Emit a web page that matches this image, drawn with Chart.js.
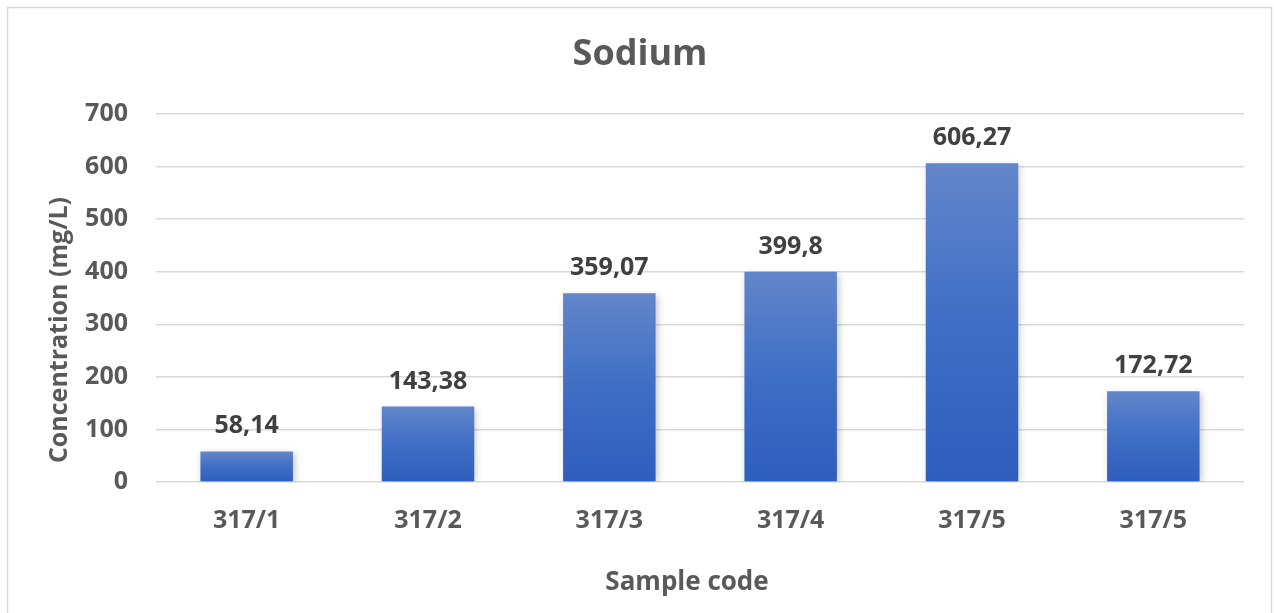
<!DOCTYPE html>
<html>
<head>
<meta charset="utf-8">
<script src="https://cdn.jsdelivr.net/npm/chart.js@4.4.1/dist/chart.umd.min.js"></script>
<style>
  html, body { margin: 0; padding: 0; background: #ffffff; }
  #wrap { width: 1274px; height: 613px; }
</style>
</head>
<body>
<div id="wrap"><canvas id="chart" width="1274" height="613"></canvas></div>
<script>
// Sodium concentration per sample
const sampleCodes = ['317/1', '317/2', '317/3', '317/4', '317/5', '317/5'];
const sodiumValues = [58.14, 143.38, 359.07, 399.8, 606.27, 172.72];
const yTicks = [0, 100, 200, 300, 400, 500, 600, 700];
const chartTitle = 'Sodium';
const xAxisTitle = 'Sample code';
const yAxisTitle = 'Concentration (mg/L)';

const FONT = '"Open Sans", Lato, sans-serif';
const GREY = '#595959';

// Vertical gradient per bar: lighter at the top, deeper blue at the base
function barFill(ctx) {
  const chart = ctx.chart;
  const y = chart.scales && chart.scales.y;
  if (!chart.chartArea || !y) return '#4472c4';
  const top = y.getPixelForValue(ctx.raw);
  const base = y.getPixelForValue(0);
  if (!isFinite(top) || !isFinite(base) || base - top < 1) return '#4472c4';
  const g = chart.ctx.createLinearGradient(0, top, 0, base);
  g.addColorStop(0, '#6386ca');
  g.addColorStop(0.5, '#3f6ec5');
  g.addColorStop(1, '#2e5ebd');
  return g;
}

// Outer frame, chart title and the two axis titles
const framePlugin = {
  id: 'frame',
  beforeDraw(chart) {
    const c = chart.ctx;
    c.save();
    c.strokeStyle = '#d9d9d9';
    c.lineWidth = 1.5;
    c.strokeRect(7.5, 7.5, chart.width - 10, chart.height + 20);
    c.fillStyle = GREY;
    c.textAlign = 'center';
    c.textBaseline = 'middle';
    c.font = 'bold 36px ' + FONT;
    c.fillText(chartTitle, chart.width / 2 + 3, 55);
    c.font = 'bold 26px ' + FONT;
    c.fillText(xAxisTitle, 687, 583);
    c.font = 'bold 25px ' + FONT;
    c.translate(60, 330);
    c.rotate(-Math.PI / 2);
    c.fillText(yAxisTitle, 0, 0);
    c.restore();
  }
};

// Soft shadow under the bars
const shadowPlugin = {
  id: 'barShadow',
  beforeDatasetDraw(chart) {
    const c = chart.ctx;
    c.save();
    c.shadowColor = 'rgba(0,0,0,0.22)';
    c.shadowBlur = 7;
    c.shadowOffsetX = 2;
    c.shadowOffsetY = 2;
  },
  afterDatasetDraw(chart) {
    chart.ctx.restore();
  }
};

// Value labels above each bar, decimal comma
const valueLabels = {
  id: 'valueLabels',
  afterDatasetsDraw(chart) {
    const c = chart.ctx;
    const meta = chart.getDatasetMeta(0);
    c.save();
    c.font = 'bold 25px ' + FONT;
    c.fillStyle = '#404040';
    c.textAlign = 'center';
    c.textBaseline = 'alphabetic';
    meta.data.forEach((bar, i) => {
      const txt = String(sodiumValues[i]).replace('.', ',');
      c.fillText(txt, bar.x, bar.y - 18);
    });
    c.restore();
  }
};

new Chart(document.getElementById('chart'), {
  type: 'bar',
  data: {
    labels: sampleCodes,
    datasets: [{
      data: sodiumValues,
      backgroundColor: barFill,
      borderWidth: 0,
      categoryPercentage: 1,
      barPercentage: 0.51
    }]
  },
  options: {
    responsive: false,
    animation: false,
    devicePixelRatio: 1,
    layout: { padding: { left: 7, right: 30, top: 114, bottom: 0 } },
    plugins: {
      legend: { display: false },
      tooltip: { enabled: false },
      title: { display: false }
    },
    scales: {
      x: {
        grid: { display: false, drawTicks: false },
        border: { display: false },
        ticks: {
          color: GREY,
          font: { family: FONT, size: 25, weight: 'bold' },
          padding: 24
        },
        title: { display: false },
        afterFit(scale) { scale.height = 131; }
      },
      y: {
        min: 0,
        max: 700,
        afterBuildTicks(scale) { scale.ticks = yTicks.map(v => ({ value: v })); },
        grid: { color: '#d9d9d9', lineWidth: 1.5, drawTicks: false },
        border: { display: false },
        ticks: {
          color: GREY,
          font: { family: FONT, size: 25, weight: 'bold' },
          padding: 28
        },
        title: { display: false },
        afterFit(scale) { scale.width = 149; }
      }
    }
  },
  plugins: [framePlugin, shadowPlugin, valueLabels]
});
</script>
</body>
</html>
